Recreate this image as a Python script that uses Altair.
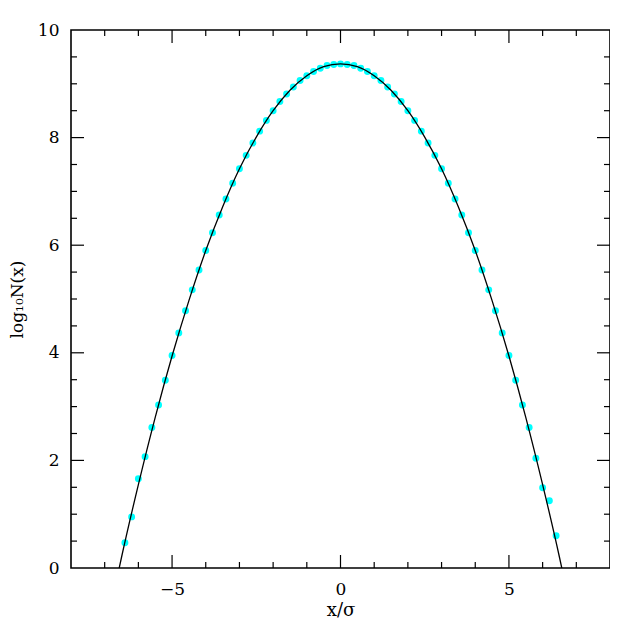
import altair as alt
import pandas as pd

# measured points (x/sigma, log10 N)
pt_x = [-6.4, -6.2, -6.0, -5.8, -5.6, -5.4, -5.2, -5.0, -4.8, -4.6, -4.4, -4.2, -4.0,
        -3.8, -3.6, -3.4, -3.2, -3.0, -2.8, -2.6, -2.4, -2.2, -2.0, -1.8, -1.6, -1.4,
        -1.2, -1.0, -0.8, -0.6, -0.4, -0.2, 0.0, 0.2, 0.4, 0.6, 0.8, 1.0, 1.2, 1.4,
        1.6, 1.8, 2.0, 2.2, 2.4, 2.6, 2.8, 3.0, 3.2, 3.4, 3.6, 3.8, 4.0, 4.2, 4.4,
        4.6, 4.8, 5.0, 5.2, 5.4, 5.6, 5.8, 6.0, 6.2, 6.4]
pt_y = [0.47, 0.95, 1.66, 2.07, 2.61, 3.03, 3.49, 3.95, 4.37, 4.78, 5.17, 5.54, 5.90,
        6.23, 6.56, 6.86, 7.15, 7.42, 7.67, 7.90, 8.12, 8.32, 8.50, 8.67, 8.81, 8.94,
        9.06, 9.15, 9.23, 9.29, 9.34, 9.36, 9.37, 9.36, 9.34, 9.29, 9.23, 9.15, 9.06, 8.94,
        8.81, 8.67, 8.50, 8.32, 8.12, 7.90, 7.67, 7.42, 7.15, 6.86, 6.56, 6.23, 5.90, 5.54, 5.17,
        4.78, 4.37, 3.95, 3.49, 3.03, 2.61, 2.04, 1.49, 1.25, 0.60]

# fitted curve
ln_x = [-6.6, -6.5, -6.0, -5.5, -5.0, -4.5, -4.0, -3.5, -3.0, -2.5, -2.0, -1.5, -1.0, -0.5,
        0.0, 0.5, 1.0, 1.5, 2.0, 2.5, 3.0, 3.5, 4.0, 4.5, 5.0, 5.5, 6.0, 6.5, 6.6]
ln_y = [-0.09, 0.20, 1.55, 2.80, 3.94, 4.97, 5.90, 6.71, 7.42, 8.01, 8.50, 8.88, 9.15, 9.32,
        9.37, 9.32, 9.15, 8.88, 8.50, 8.01, 7.42, 6.71, 5.90, 4.97, 3.94, 2.80, 1.55, 0.20, -0.09]

x_major = [-5, 0, 5]
x_minor = [-7, -6, -4, -3, -2, -1, 1, 2, 3, 4, 6, 7]
y_major = [2, 4, 6, 8]
y_minor = [0.5, 1, 1.5, 2.5, 3, 3.5, 4.5, 5, 5.5, 6.5, 7, 7.5, 8.5, 9, 9.5]
y_labels = [0, 2, 4, 6, 8, 10]

W, H = 539, 538
FONT = "DejaVu Serif"

xs = alt.Scale(domain=[-8, 8], nice=False, zero=False)
ys = alt.Scale(domain=[0, 10], nice=False, zero=False)

x_axis = alt.Axis(
    values=x_major, format="d", title="x/σ", domain=False, ticks=False, tickSize=0,
    grid=False, labelFont=FONT, labelFontSize=17, labelPadding=13, labelColor="#000",
    titleFont=FONT, titleFontSize=18, titleFontWeight="normal", titleColor="#000",
    titleX=W / 2, titleY=47, titleBaseline="alphabetic")
y_axis = alt.Axis(
    values=y_labels, format="d", title="log₁₀N(x)", domain=False, ticks=False, tickSize=0,
    grid=False, labelFont=FONT, labelFontSize=17, labelPadding=12, labelColor="#000",
    titleFont=FONT, titleFontSize=17, titleFontWeight="normal", titleColor="#000",
    titleX=-54, titleY=H / 2, titleAngle=270, titleBaseline="middle", titleAlign="center")

pts = pd.DataFrame({"x": pt_x, "y": pt_y})
lns = pd.DataFrame({"x": ln_x, "y": ln_y})

points = alt.Chart(pts).mark_circle(size=48, color="#00FFFF", opacity=1).encode(
    x=alt.X("x:Q", scale=xs, axis=x_axis),
    y=alt.Y("y:Q", scale=ys, axis=y_axis),
)

line = alt.Chart(lns).mark_line(color="#000", strokeWidth=1.3, interpolate="monotone", clip=True).encode(
    x=alt.X("x:Q", scale=xs, axis=x_axis),
    y=alt.Y("y:Q", scale=ys, axis=y_axis),
)

def xticks(vals, length):
    d = pd.DataFrame({"x": vals})
    bottom = alt.Chart(d).mark_rule(color="#000", strokeWidth=1.2).encode(
        x=alt.X("x:Q", scale=xs, axis=x_axis), y=alt.value(H), y2=alt.value(H - length))
    top = alt.Chart(d).mark_rule(color="#000", strokeWidth=1.2).encode(
        x=alt.X("x:Q", scale=xs, axis=x_axis), y=alt.value(0), y2=alt.value(length))
    return [bottom, top]

def yticks(vals, length):
    d = pd.DataFrame({"y": vals})
    left = alt.Chart(d).mark_rule(color="#000", strokeWidth=1.2).encode(
        y=alt.Y("y:Q", scale=ys, axis=y_axis), x=alt.value(0), x2=alt.value(length))
    right = alt.Chart(d).mark_rule(color="#000", strokeWidth=1.2).encode(
        y=alt.Y("y:Q", scale=ys, axis=y_axis), x=alt.value(W), x2=alt.value(W - length))
    return [left, right]

layers = [points, line] + xticks(x_major, 13) + xticks(x_minor, 6) + yticks(y_major, 13) + yticks(y_minor, 6)

chart = alt.layer(*layers).properties(
    width=W, height=H,
    padding={"left": 63, "top": 22, "right": 0, "bottom": 52},
    autosize=alt.AutoSizeParams(type="none"),
    background="#ffffff",
).configure_view(stroke="#000", strokeWidth=1.6)

chart.save("out.html", embed_options={"renderer": "svg", "actions": False})
